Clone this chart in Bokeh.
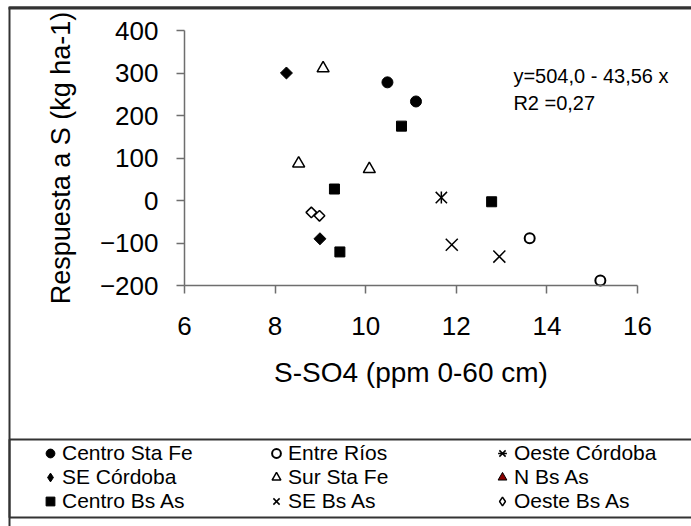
import math
from bokeh.plotting import figure
from bokeh.models import Range1d, FixedTicker, Legend, LegendItem, Label, BoxAnnotation
from bokeh.embed import file_html
from bokeh.resources import INLINE

# ---- data ----
x_ticks = [6, 8, 10, 12, 14, 16]
y_ticks = [-200, -100, 0, 100, 200, 300, 400]

centro_sta_fe_x = [10.48, 11.11]
centro_sta_fe_y = [278, 233]
se_cordoba_x = [8.25, 8.99]
se_cordoba_y = [300, -90]
centro_bs_as_x = [10.79, 9.31, 9.43, 12.78]
centro_bs_as_y = [175, 27, -121, -3]
entre_rios_x = [13.62, 15.18]
entre_rios_y = [-89, -188]
sur_sta_fe_x = [9.06, 8.52, 10.08]
sur_sta_fe_y = [311, 87, 74]
se_bs_as_x = [11.90, 12.95]
se_bs_as_y = [-104, -132]
oeste_cordoba_x = [11.67]
oeste_cordoba_y = [7]
n_bs_as_x = []
n_bs_as_y = []
oeste_bs_as_x = [8.80, 8.98]
oeste_bs_as_y = [-28, -36]

eq_text = "y=504,0 - 43,56 x"
r2_text = "R2 =0,27"

FONT = "Liberation Sans"
q = math.pi / 4

# ---- layout geometry (pixels) ----
W, H = 691, 526
PX = 45.3      # px per x unit
PY = 0.425     # px per y unit
X0_PX, Y400_PX = 184, 30   # where x=6 and y=400 sit on the page
x_start = 6 - X0_PX / PX
x_end = x_start + W / PX
y_end = 400 + Y400_PX / PY
y_start = y_end - H / PY


def xd(px):
    return x_start + px / PX


def yd(py):
    return y_end - py / PY


STY = {
    "csf": dict(marker="circle", size=11, fill_color="black", line_color="black", line_width=1),
    "sec": dict(marker="square", size=8.5, angle=q, fill_color="black", line_color="black", line_width=1),
    "cba": dict(marker="square", size=10, fill_color="black", line_color="black", line_width=1),
    "er": dict(marker="circle", size=10, fill_color="white", line_color="black", line_width=2),
    "ssf": dict(marker="triangle", size=12, fill_color="white", line_color="black", line_width=1.5),
    "seb": dict(marker="x", size=17, line_color="black", line_width=1.5),
    "oc1": dict(marker="x", size=16, line_color="black", line_width=1.5),
    "oc2": dict(marker="dash", size=12, angle=math.pi / 2, line_color="black", line_width=1.5),
    "nba": dict(marker="triangle", size=13, fill_color="#8b0000", line_color="black", line_width=1),
    "oba": dict(marker="square", size=7.5, angle=q, fill_color="white", line_color="black", line_width=1.5),
}
KEY_STY = {
    "sec": dict(marker="diamond", size=12, fill_color="black", line_color="black", line_width=1),
    "oba": dict(marker="diamond", size=12, fill_color="white", line_color="black", line_width=1.5),
}

p = figure(width=W, height=H, output_backend="svg", toolbar_location=None,
           x_range=Range1d(x_start, x_end), y_range=Range1d(y_start, y_end),
           min_border=0)
p.grid.visible = False
p.outline_line_color = None
p.background_fill_color = "white"
p.border_fill_color = "white"

for ax, ticks in ((p.xaxis, x_ticks), (p.yaxis, y_ticks)):
    ax.ticker = FixedTicker(ticks=ticks)
    ax.minor_tick_line_color = None
    ax.major_tick_in = 0
    ax.major_tick_out = 8
    ax.axis_line_color = "#6e6e6e"
    ax.axis_line_width = 1.5
    ax.major_tick_line_color = "#6e6e6e"
    ax.major_tick_line_width = 1.5
    ax.major_label_text_font = FONT
    ax.major_label_text_font_size = "26px"
    ax.major_label_text_color = "black"
    ax.axis_label_text_font = FONT
    ax.axis_label_text_font_style = "normal"
    ax.axis_label_text_color = "black"

p.xaxis.axis_label_text_font_size = "28px"
p.yaxis.axis_label_text_font_size = "27px"
p.xaxis.fixed_location = -200
p.yaxis.fixed_location = 6
p.xaxis.bounds = (6, 16)
p.yaxis.bounds = (-200, 400)
p.xaxis.axis_label = "S-SO4 (ppm 0-60 cm)"
p.yaxis.axis_label = "Respuesta a S (kg ha-1)"
p.xaxis.major_label_standoff = 23
p.yaxis.major_label_standoff = 18
p.xaxis.axis_label_standoff = 19
p.yaxis.axis_label_standoff = 21

r_csf = p.scatter(centro_sta_fe_x, centro_sta_fe_y, **STY["csf"])
r_sec = p.scatter(se_cordoba_x, se_cordoba_y, **STY["sec"])
r_cba = p.scatter(centro_bs_as_x, centro_bs_as_y, **STY["cba"])
r_er = p.scatter(entre_rios_x, entre_rios_y, **STY["er"])
r_ssf = p.scatter(sur_sta_fe_x, sur_sta_fe_y, **STY["ssf"])
r_seb = p.scatter(se_bs_as_x, se_bs_as_y, **STY["seb"])
r_oc1 = p.scatter(oeste_cordoba_x, oeste_cordoba_y, **STY["oc1"])
r_oc2 = p.scatter(oeste_cordoba_x, oeste_cordoba_y, **STY["oc2"])
r_nba = p.scatter(n_bs_as_x, n_bs_as_y, **STY["nba"])
r_oba = p.scatter(oeste_bs_as_x, oeste_bs_as_y, **STY["oba"])
# hidden renderers that only supply legend glyphs (N Bs As has no points in the chart;
# the legend keys of the diamond series are drawn as diamonds)
k_nba = p.scatter(sur_sta_fe_x, sur_sta_fe_y, visible=False, **STY["nba"])
k_sec = p.scatter(se_cordoba_x, se_cordoba_y, visible=False, **KEY_STY["sec"])
k_oba = p.scatter(oeste_bs_as_x, oeste_bs_as_y, visible=False, **KEY_STY["oba"])

p.add_layout(Label(x=13.26, y=292, text=eq_text, text_font=FONT,
                   text_font_size="20px", text_baseline="alphabetic", text_color="black"))
p.add_layout(Label(x=13.26, y=229, text=r2_text, text_font=FONT,
                   text_font_size="20px", text_baseline="alphabetic", text_color="black"))

# chart-area border (left/top) and legend band
p.add_layout(BoxAnnotation(left=xd(9), right=xd(740), top=yd(7), bottom=yd(600),
                           fill_alpha=0, line_color="#333333", line_alpha=1, line_width=2))
p.add_layout(BoxAnnotation(left=xd(8), right=xd(740), top=yd(6), bottom=yd(9),
                           fill_color="#333333", fill_alpha=1, line_alpha=0))
p.add_layout(BoxAnnotation(left=xd(9), right=xd(740), top=yd(439), bottom=yd(517),
                           fill_alpha=0, line_color="#333333", line_alpha=1, line_width=2))

items = [
    LegendItem(label="Centro Sta Fe", renderers=[r_csf]),
    LegendItem(label="SE Córdoba", renderers=[k_sec]),
    LegendItem(label="Centro Bs As", renderers=[r_cba]),
    LegendItem(label="Entre Ríos", renderers=[r_er]),
    LegendItem(label="Sur Sta Fe", renderers=[r_ssf]),
    LegendItem(label="SE Bs As", renderers=[r_seb]),
    LegendItem(label="Oeste Córdoba", renderers=[r_oc1, r_oc2]),
    LegendItem(label="N Bs As", renderers=[k_nba]),
    LegendItem(label="Oeste Bs As", renderers=[k_oba]),
]
legend = Legend(items=items, location=(39, 13), orientation="vertical", ncols=3,
                glyph_width=22, glyph_height=22, label_standoff=1, label_width=203,
                padding=0, spacing=-1, margin=0,
                border_line_color=None, background_fill_alpha=0,
                label_text_font=FONT, label_text_font_size="21px",
                label_text_color="black")
p.add_layout(legend, "center")

open("out.html", "w").write(file_html(p, INLINE))
